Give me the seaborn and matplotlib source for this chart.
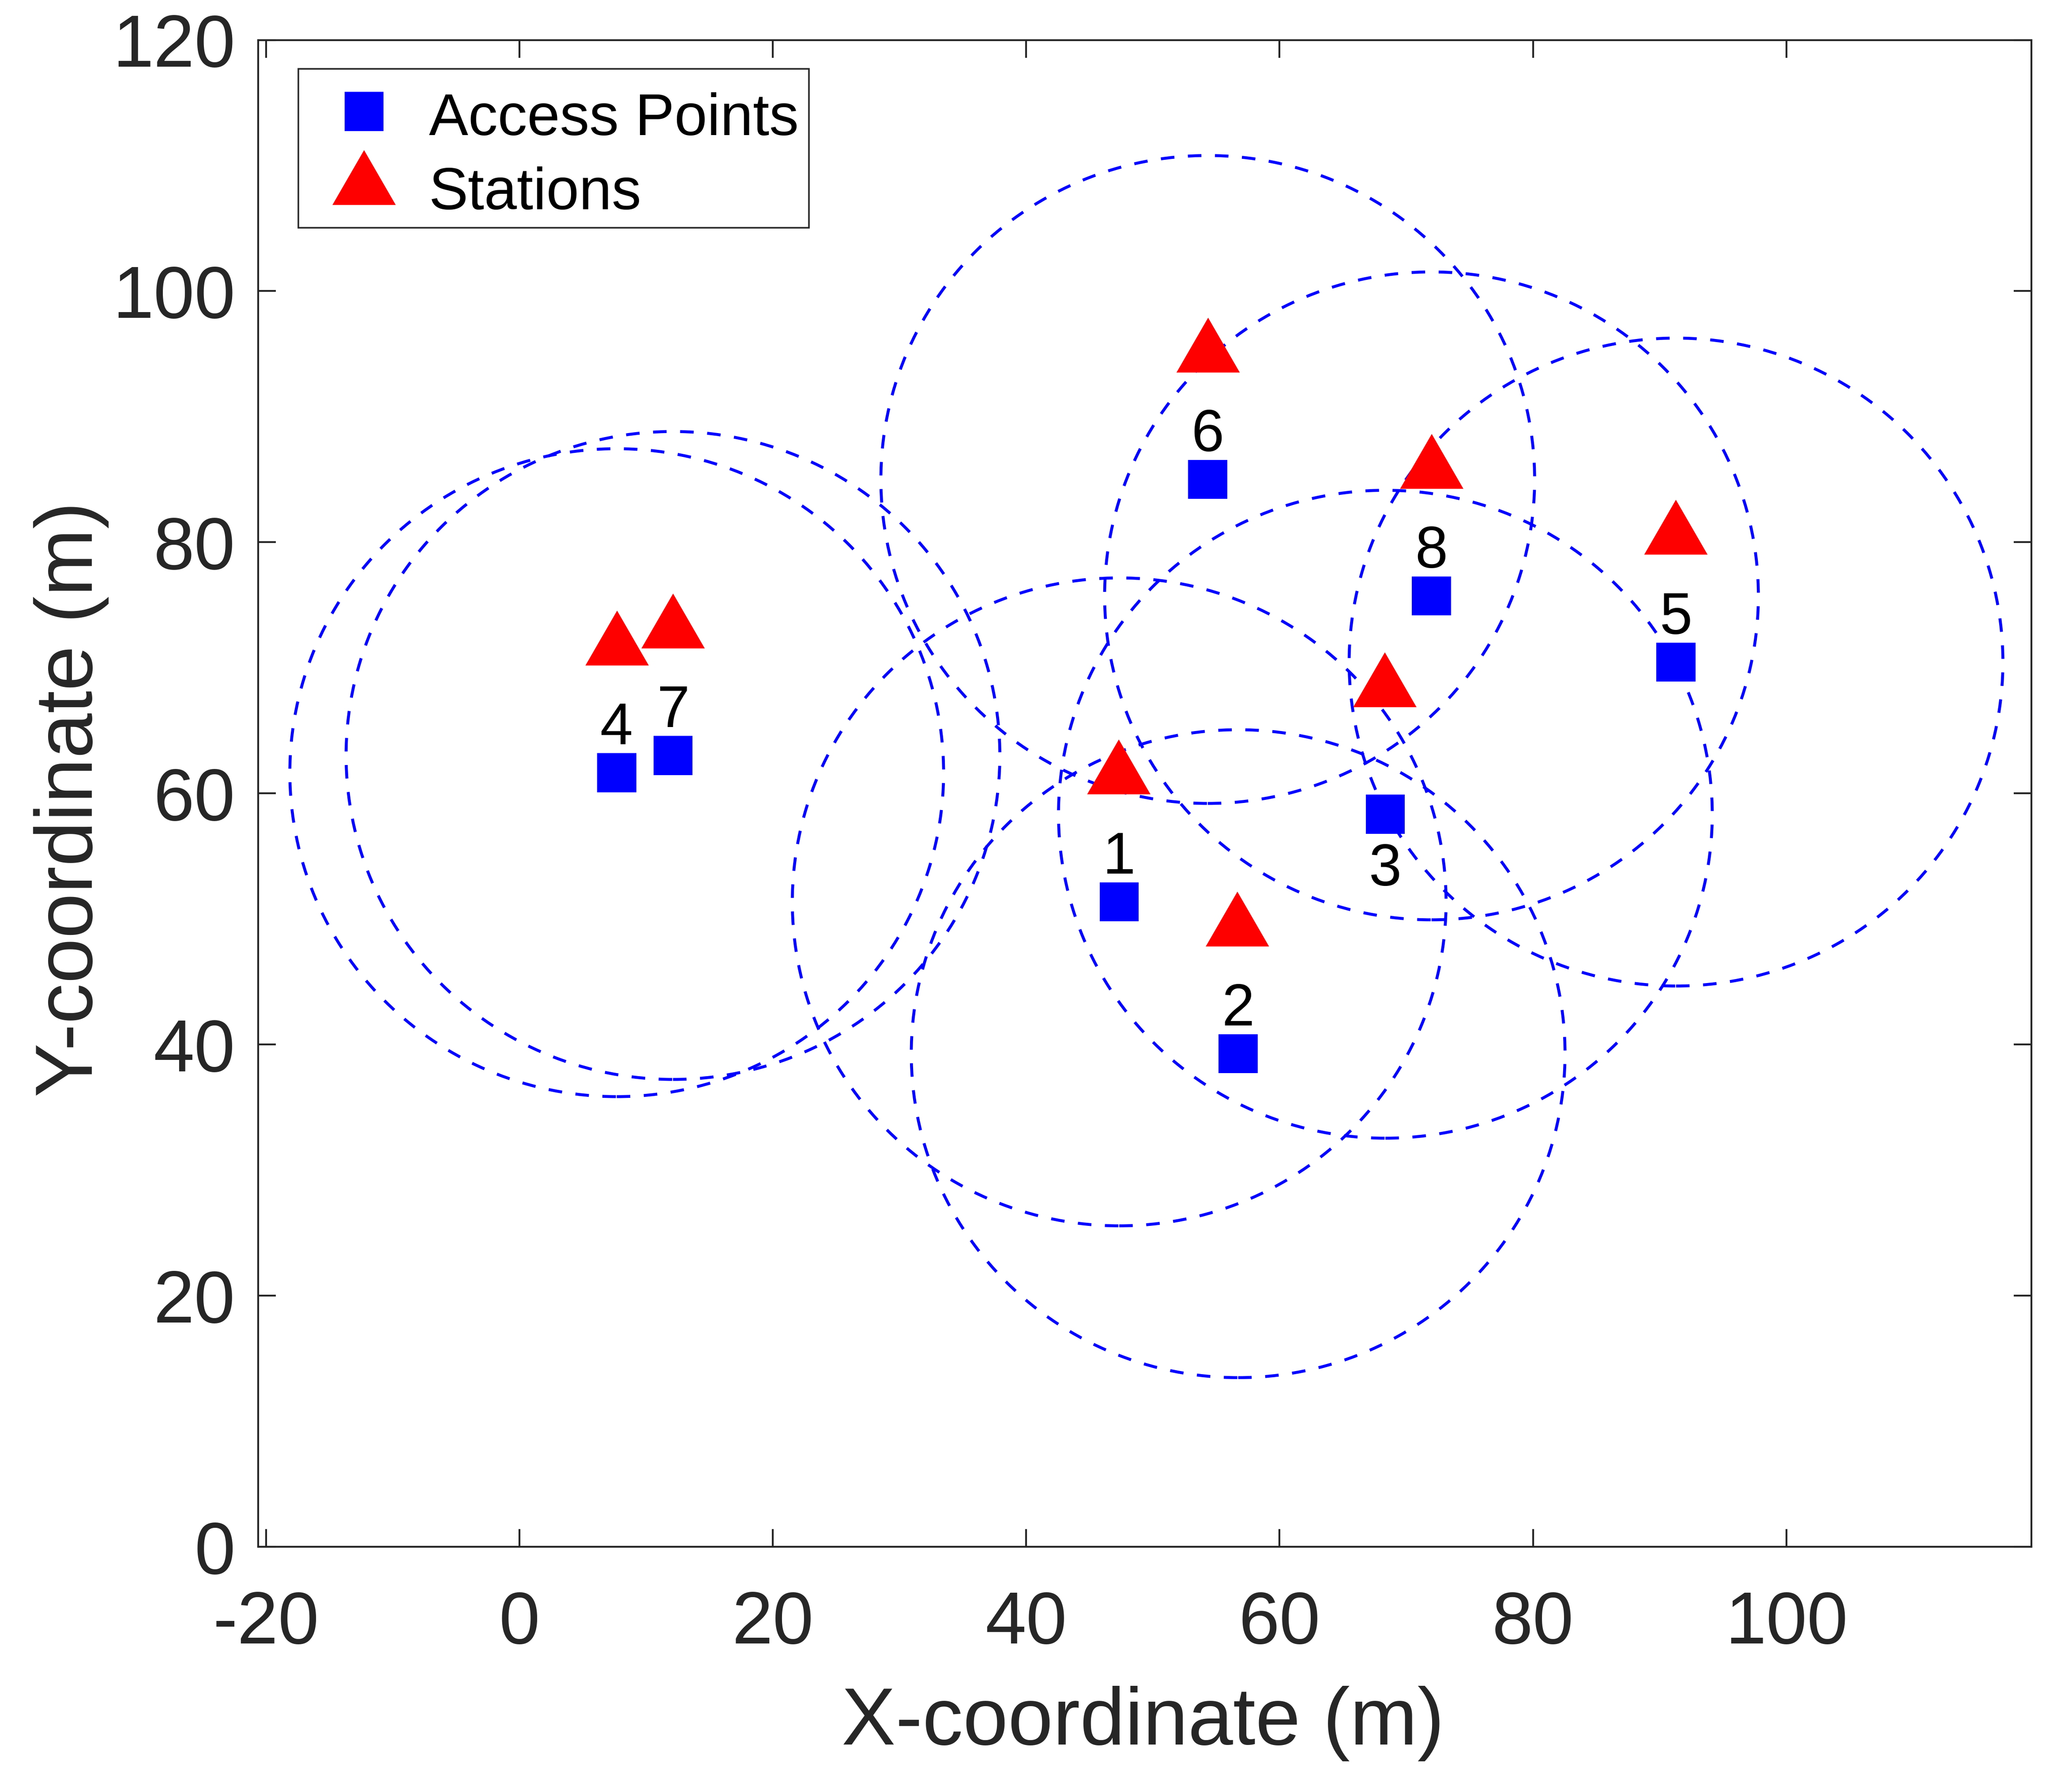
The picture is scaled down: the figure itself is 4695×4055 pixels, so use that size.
import numpy as np
import pandas as pd
import matplotlib
matplotlib.use("Agg")
import matplotlib.pyplot as plt
from matplotlib.patches import Circle, Rectangle
from matplotlib.markers import MarkerStyle
from matplotlib.legend_handler import HandlerPathCollection
import seaborn as sns

# ---- data ----
ap_ids = [1, 2, 3, 4, 5, 6, 7, 8]
ap_x = [47.34, 56.73, 68.35, 7.68, 91.29, 54.33, 12.12, 71.99]
ap_y = [51.36, 39.27, 58.34, 61.65, 70.46, 85.00, 63.02, 75.73]
sta_x = [47.31, 56.67, 68.31, 7.71, 91.28, 54.36, 12.13, 72.01]
sta_y = [62.11, 49.99, 69.05, 72.37, 81.20, 95.70, 73.73, 86.44]
coverage_radius = 25.8
x_ticks = [-20, 0, 20, 40, 60, 80, 100]
y_ticks = [0, 20, 40, 60, 80, 100, 120]
x_label = "X-coordinate (m)"
y_label = "Y-coordinate (m)"
legend_labels = ["Access Points", "Stations"]

sns.set_style("ticks")
plt.rcParams["font.family"] = ["Liberation Sans", "DejaVu Sans"]
plt.rcParams["axes.unicode_minus"] = False

DPI = 300
W, H = 4695, 4055
fig = plt.figure(figsize=(W / DPI, H / DPI), dpi=DPI)
ax = fig.add_axes([585 / W, 1 - 3504 / H, (4603.3 - 585) / W, (3504 - 90.6) / H])

ap_df = pd.DataFrame({"x": ap_x, "y": ap_y, "id": ap_ids})
sta_df = pd.DataFrame({"x": sta_x, "y": sta_y})

# coverage circles
for cx, cy in zip(ap_x, ap_y):
    ax.add_patch(Circle((cx, cy), coverage_radius, fill=False, edgecolor=(0, 0, 1),
                        linewidth=1.6, linestyle=(0, (4.6, 4.6)), zorder=1))

sq_px = 88.5
tri_px = 143.5
sq_pt = sq_px / DPI * 72
tri_pt = tri_px / DPI * 72
tri_marker = MarkerStyle([(-1.0, -0.866), (1.0, -0.866), (0.0, 0.866)])

sns.scatterplot(data=ap_df, x="x", y="y", ax=ax, marker="s", s=sq_pt ** 2,
                color=(0, 0, 1), edgecolor="none", linewidth=0,
                label=legend_labels[0], zorder=3)
sns.scatterplot(data=sta_df, x="x", y="y", ax=ax, marker=tri_marker, s=tri_pt ** 2,
                color=(1, 0, 0), edgecolor="none", linewidth=0,
                label=legend_labels[1], zorder=3)

for i, x, y in zip(ap_ids, ap_x, ap_y):
    if i == 3:
        ax.text(x, y - 2.25, str(i), ha="center", va="top", fontsize=32, color="black", zorder=4)
    else:
        ax.text(x, y + 2.25, str(i), ha="center", va="baseline", fontsize=32, color="black", zorder=4)

ax.set_xlim(-20.62, 119.35)
ax.set_ylim(0, 120)
ax.set_xticks(x_ticks)
ax.set_yticks(y_ticks)
ax.set_xticklabels([str(t) for t in x_ticks])
ax.set_yticklabels([str(t) for t in y_ticks])

dark = "#262626"
for sp in ax.spines.values():
    sp.set_visible(True)
    sp.set_linewidth(1.0)
    sp.set_color(dark)
ax.tick_params(axis="both", which="major", direction="in", length=9.6, width=1.0,
               color=dark, labelcolor=dark, labelsize=40, top=True, right=True)
ax.tick_params(axis="x", pad=23.5)
ax.tick_params(axis="y", pad=12.5)

ax.set_xlabel(x_label, fontsize=44, color=dark)
ax.set_ylabel(y_label, fontsize=44, color=dark)
ax.xaxis.set_label_coords(0.4990, -0.0923)
ax.yaxis.set_label_coords(-0.0841, 0.496)

# legend frame (MATLAB-style box)
ax.add_patch(Rectangle((0.02265, 0.87549), 0.31058 - 0.02265, 0.98084 - 0.87549,
                       transform=ax.transAxes, facecolor="white", edgecolor=dark,
                       linewidth=0.85, zorder=5))

handles, labels = ax.get_legend_handles_labels()
hmap = {handles[0]: HandlerPathCollection(yoffsets=[0.573]),
        handles[1]: HandlerPathCollection(yoffsets=[0.77])}
leg = ax.legend(handles, labels, loc="upper left", bbox_to_anchor=(0.04313, 0.96530),
                borderaxespad=0, fontsize=32, frameon=False, borderpad=0,
                labelspacing=0.3226, handlelength=1.0, handletextpad=0.60,
                scatterpoints=1, handler_map=hmap)
leg.set_zorder(6)
for t in leg.get_texts():
    t.set_color("black")

fig.savefig("out.png", dpi=DPI, facecolor="white")
